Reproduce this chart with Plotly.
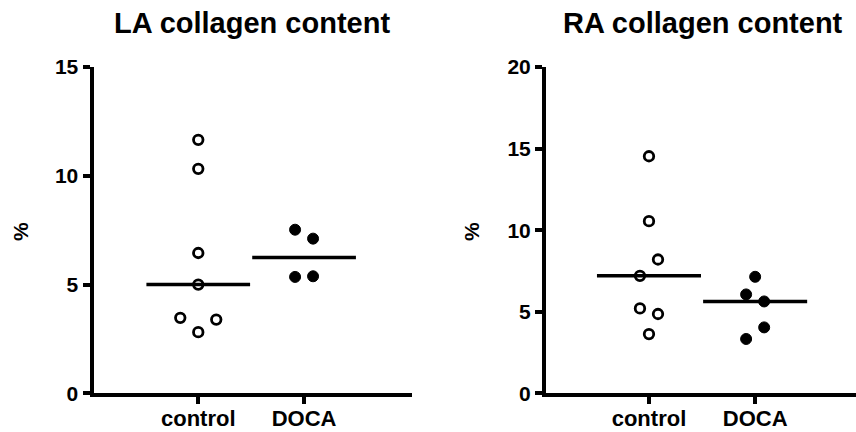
import numpy as np
import plotly.graph_objects as go

# ---------------- data ----------------
categories = ["control", "DOCA"]

la_control = [11.65, 10.32, 6.45, 5.00, 3.47, 3.39, 2.81]
la_doca = [7.52, 7.11, 5.35, 5.38]
ra_control = [14.53, 10.55, 8.20, 7.20, 5.20, 4.86, 3.63]
ra_doca = [7.14, 6.06, 5.63, 4.04, 3.33]

# horizontal scatter slots (in jitter steps) used to avoid overlapping symbols
la_control_slot = [0, 0, 0, 0, -2, 2, 0]
la_doca_slot = [-1, 1, -1, 1]
ra_control_slot = [0, 0, 1, -1, -1, 1, 0]
ra_doca_slot = [0, -1, 1, 1, -1]

titles = ["LA collagen content", "RA collagen content"]
y_label = "%"
la_ticks = [0, 5, 10, 15]
ra_ticks = [0, 5, 10, 15, 20]

# ---------------- style ----------------
FONT = "Liberation Sans, Arial, sans-serif"
STEP = 0.085
HALF = 0.49
W, H = 856, 432

fig = go.Figure()

panels = [
    dict(xa="x", ya="y", groups=[(la_control, la_control_slot), (la_doca, la_doca_slot)]),
    dict(xa="x2", ya="y2", groups=[(ra_control, ra_control_slot), (ra_doca, ra_doca_slot)]),
]

for p in panels:
    for gi, (vals, slots) in enumerate(p["groups"]):
        xs = [gi + s * STEP for s in slots]
        filled = gi == 1
        fig.add_trace(go.Scatter(
            x=xs, y=vals, mode="markers", xaxis=p["xa"], yaxis=p["ya"],
            showlegend=False, hoverinfo="y",
            marker=dict(
                symbol="circle",
                size=11 if filled else 9.5,
                color="black" if filled else "white",
                line=dict(color="black", width=1 if filled else 2.8),
            ),
        ))
        med = float(np.median(vals))
        fig.add_trace(go.Scatter(
            x=[gi - HALF, gi + HALF], y=[med, med], mode="lines",
            xaxis=p["xa"], yaxis=p["ya"], showlegend=False, hoverinfo="skip",
            line=dict(color="black", width=3.5),
        ))

y_dom = [38.7 / H, (H - 67) / H]
axis_common = dict(
    showgrid=False, zeroline=False, showline=True, linecolor="black", linewidth=4,
    ticks="outside", ticklen=7, tickwidth=3.5, tickcolor="black", automargin=False,
)
xfont = dict(family=FONT, size=22, color="black", weight="bold")
yfont = dict(family=FONT, size=21, color="black", weight="bold")

fig.update_layout(
    template="none",
    width=W, height=H, margin=dict(l=0, r=0, t=0, b=0, pad=0),
    paper_bgcolor="white", plot_bgcolor="white",
    xaxis=dict(domain=[93.5 / W, 412 / W], range=[-0.99, 2.02], tickmode="array",
               tickvals=[0, 1], ticktext=categories, tickfont=xfont,
               ticklabelstandoff=-5, **axis_common),
    yaxis=dict(domain=y_dom, range=[0, 15], tickmode="array", tickvals=la_ticks,
               tickfont=yfont, **axis_common),
    xaxis2=dict(domain=[546 / W, 1.0], range=[-0.97, 1.95], tickmode="array",
                tickvals=[0, 1], ticktext=categories, anchor="y2", tickfont=xfont,
                ticklabelstandoff=-5, **axis_common),
    yaxis2=dict(domain=y_dom, range=[0, 20], tickmode="array", tickvals=ra_ticks,
                anchor="x2", tickfont=yfont, **axis_common),
)

title_font = dict(family=FONT, size=29, color="black", weight="bold")
label_font = dict(family=FONT, size=21, color="black", weight="bold")
for cx, t in zip([251.5 / W, 702.5 / W], titles):
    fig.add_annotation(text=t, x=cx, y=1 - 23 / H, xref="paper", yref="paper",
                       xanchor="center", yanchor="middle", showarrow=False, font=title_font)
for lx in [20 / W, 471 / W]:
    fig.add_annotation(text=y_label, x=lx, y=1 - 232 / H, xref="paper", yref="paper",
                       xanchor="center", yanchor="middle", showarrow=False,
                       textangle=-90, font=label_font)

fig.write_html("out.html")
